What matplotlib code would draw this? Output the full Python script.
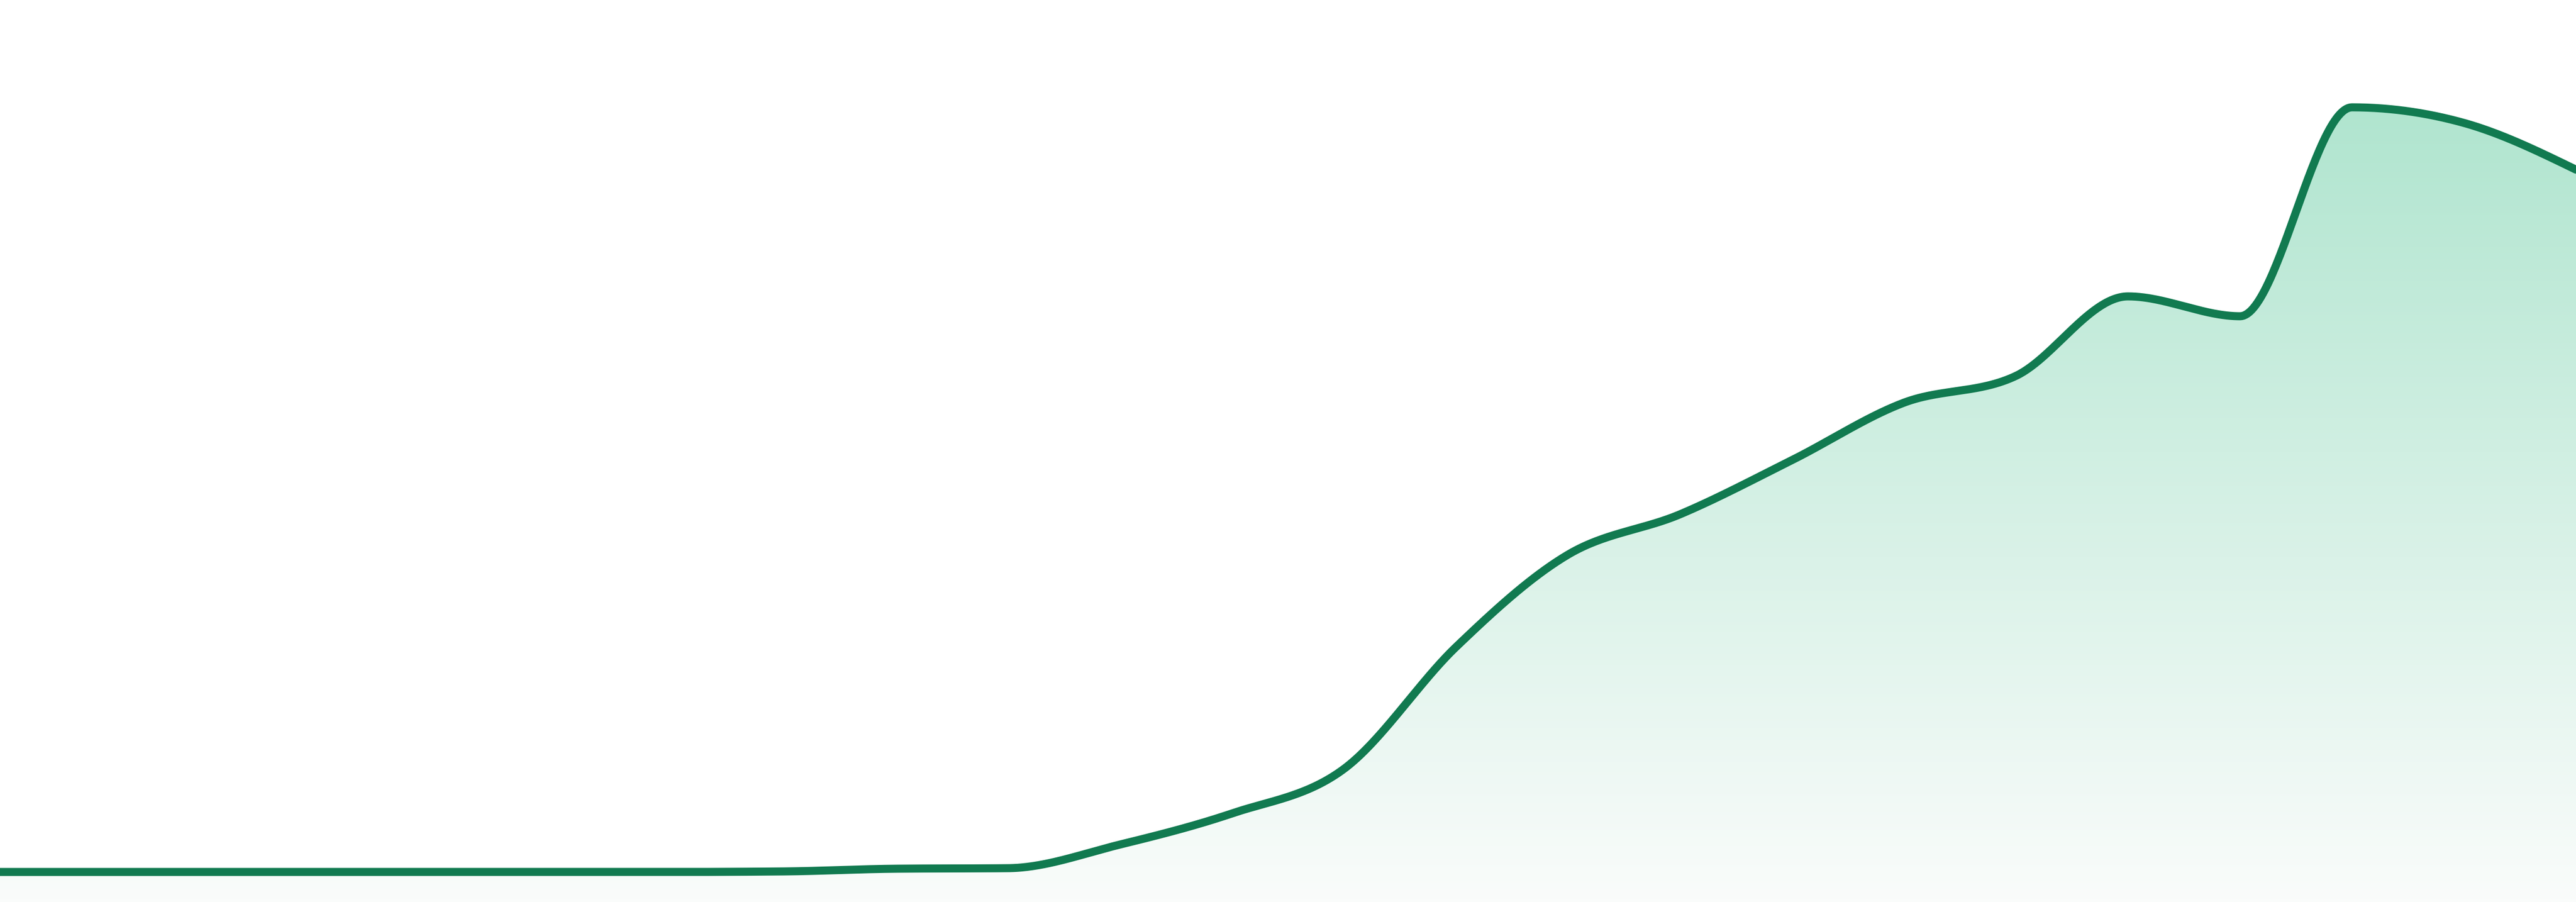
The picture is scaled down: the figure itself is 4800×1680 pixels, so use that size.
import numpy as np
import matplotlib
matplotlib.use("Agg")
import matplotlib.pyplot as plt
from matplotlib.colors import LinearSegmentedColormap

# one value per period
periods = list(range(24))
values = [33.3, 33.3, 33.3, 33.3, 33.3, 33.3, 33.3, 33.9, 36.9, 37.5,
          63.7, 98.2, 147.6, 282.7, 385.1, 429.8, 489.9, 553.6, 583.3,
          671.4, 649.4, 881.0, 863.7, 811.9]

line_color = "#117a50"
fill_top = "#b0e5cf"
fill_bottom = "#fafcfb"


def monotone_x(x, y, steps=60):
    """Monotone cubic curve through the points (same rule as d3 curveMonotoneX)"""
    x = np.asarray(x, float)
    y = np.asarray(y, float)
    h = np.diff(x)
    s = np.diff(y) / h
    t = np.zeros(len(x))
    for i in range(1, len(x) - 1):
        p = (s[i - 1] * h[i] + s[i] * h[i - 1]) / (h[i - 1] + h[i])
        sg0 = -1 if s[i - 1] < 0 else 1
        sg1 = -1 if s[i] < 0 else 1
        t[i] = (sg0 + sg1) * min(abs(s[i - 1]), abs(s[i]), 0.5 * abs(p))
    t[0] = (3 * s[0] - t[1]) / 2
    t[-1] = (3 * s[-1] - t[-2]) / 2

    xs, ys = [], []
    u = np.linspace(0, 1, steps)
    for i in range(len(x) - 1):
        h00 = 2 * u**3 - 3 * u**2 + 1
        h10 = u**3 - 2 * u**2 + u
        h01 = -2 * u**3 + 3 * u**2
        h11 = u**3 - u**2
        seg_y = h00 * y[i] + h10 * h[i] * t[i] + h01 * y[i + 1] + h11 * h[i] * t[i + 1]
        xs.append(x[i] + u * h[i])
        ys.append(seg_y)
    return np.concatenate(xs), np.concatenate(ys)


cx, cy = monotone_x(periods, values)

fig = plt.figure(figsize=(16, 5.6), dpi=300)
ax = fig.add_axes([0, 0, 1, 1])
ax.set_xlim(periods[0], periods[-1])
ax.set_ylim(0, 1000)
ax.axis("off")

# gradient fill under the curve
poly = ax.fill_between(cx, cy, 0, color="none", lw=0)
cmap = LinearSegmentedColormap.from_list("g", [fill_bottom, fill_top])
grad = np.linspace(0, 1, 256).reshape(-1, 1)
img = ax.imshow(grad, cmap=cmap, aspect="auto", origin="lower",
                extent=[periods[0], periods[-1], 0, max(values)], zorder=1)
img.set_clip_path(poly.get_paths()[0], transform=ax.transData)

ax.plot(cx, cy, color=line_color, lw=3.6, solid_capstyle="round", zorder=3)

fig.savefig("out.png", dpi=300, facecolor="white")
